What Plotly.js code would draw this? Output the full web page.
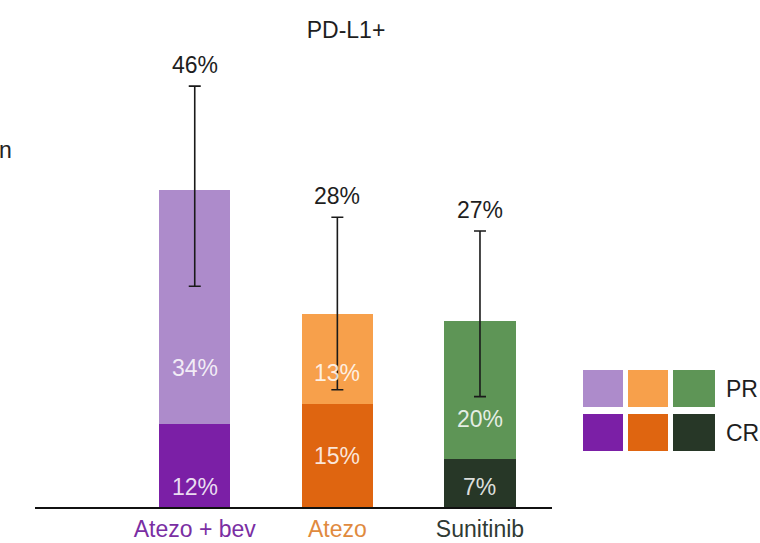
<!DOCTYPE html>
<html>
<head>
<meta charset="utf-8">
<script src="https://cdn.plot.ly/plotly-3.0.1.min.js"></script>
<style>
  html, body { margin: 0; padding: 0; background: #ffffff; }
  #chart { width: 760px; height: 543px; }
</style>
</head>
<body>
<div id="chart"></div>
<script>
// Treatment arms (PD-L1+ population)
const arms = ['Atezo + bev', 'Atezo', 'Sunitinib'];
// Complete response, %
const crValues = [12, 15, 7];
// Partial response, %
const prValues = [34, 13, 20];
// 95% CI of the objective response rate, %
const ciLow = [32, 17, 16];
const ciHigh = [61, 42, 40];

const orrValues = crValues.map((c, i) => c + prValues[i]);

const prColors = ['#ad8bcb', '#f7a04b', '#5e9556'];
const crColors = ['#7b1fa6', '#df6510', '#273727'];
const armTextColors = ['#7a2ea3', '#e08a3e', '#2f3a34'];

const FONT = '"Liberation Sans", Arial, Helvetica, sans-serif';
const FS = 23;

// plot-area edges in pixels, used for the paper-unit helpers below
const plotL = 35, plotR = 552, plotT = 24, plotB = 507;
const px = v => (v - plotL) / (plotR - plotL);
const py = v => (plotB - v) / (plotB - plotT);

const traces = [
  {
    type: 'bar', name: 'CR', x: arms, y: crValues,
    marker: { color: crColors, line: { width: 0 } },
    width: 0.5, hoverinfo: 'skip', showlegend: false
  },
  {
    type: 'bar', name: 'PR', x: arms, y: prValues,
    marker: { color: prColors, line: { width: 0 } },
    width: 0.5, hoverinfo: 'skip', showlegend: false
  },
  {
    // confidence interval around the objective response rate
    type: 'scatter', mode: 'markers', x: arms, y: orrValues,
    marker: { size: 1, opacity: 0 },
    error_y: {
      type: 'data', symmetric: false,
      array: ciHigh.map((h, i) => h - orrValues[i]),
      arrayminus: ciLow.map((l, i) => orrValues[i] - l),
      color: '#1a1a1a', thickness: 1.6, width: 6
    },
    hoverinfo: 'skip', showlegend: false
  }
];

const annotations = [];
// ORR labels above the CI whiskers
arms.forEach((a, i) => {
  annotations.push({
    x: a, y: ciHigh[i], xref: 'x', yref: 'y',
    text: orrValues[i] + '%', showarrow: false,
    xanchor: 'center', yanchor: 'bottom', yshift: 6,
    font: { family: FONT, size: FS, color: '#1e1e1e' }
  });
});
// in-bar segment labels (position given as a fraction of each segment)
const crFrac = [0.24, 0.49, 0.41];
const prFrac = [0.24, 0.34, 0.29];
arms.forEach((a, i) => {
  annotations.push({
    x: a, y: crValues[i] * crFrac[i], xref: 'x', yref: 'y',
    text: crValues[i] + '%', showarrow: false, xanchor: 'center', yanchor: 'middle',
    font: { family: FONT, size: FS, color: 'rgba(255,255,255,0.85)' }
  });
  annotations.push({
    x: a, y: crValues[i] + prValues[i] * prFrac[i], xref: 'x', yref: 'y',
    text: prValues[i] + '%', showarrow: false, xanchor: 'center', yanchor: 'middle',
    font: { family: FONT, size: FS, color: 'rgba(255,255,255,0.85)' }
  });
});
// last letter of the axis caption, cut by the left edge
annotations.push({
  x: px(14), y: py(150), xref: 'paper', yref: 'paper', showarrow: false,
  xanchor: 'right', yanchor: 'middle',
  text: 'n', font: { family: FONT, size: FS, color: '#222' }
});

// legend grid: PR row on top, CR row below, one swatch per arm
const shapes = [];
const swX = [[583, 623], [628, 668], [673, 715]];
const rows = [{ y: [370, 407], colors: prColors, label: 'PR' },
              { y: [414, 451], colors: crColors, label: 'CR' }];
rows.forEach(r => {
  swX.forEach((sx, j) => {
    shapes.push({
      type: 'rect', xref: 'paper', yref: 'paper',
      x0: px(sx[0]), x1: px(sx[1]), y0: py(r.y[1]), y1: py(r.y[0]),
      fillcolor: r.colors[j], line: { width: 0 }
    });
  });
  annotations.push({
    x: px(724), y: py((r.y[0] + r.y[1]) / 2), xref: 'paper', yref: 'paper',
    xanchor: 'left', yanchor: 'middle', showarrow: false, text: r.label,
    font: { family: FONT, size: FS, color: '#1e1e1e' }
  });
});

const layout = {
  width: 760, height: 543,
  margin: { l: plotL, r: 760 - plotR, t: plotT, b: 543 - plotB },
  paper_bgcolor: '#ffffff', plot_bgcolor: '#ffffff',
  barmode: 'stack',
  showlegend: false,
  title: {
    text: 'PD-L1+', x: px(346), xref: 'paper', xanchor: 'center',
    y: 1 - 30 / 543, yanchor: 'middle', yref: 'container',
    font: { family: FONT, size: FS, color: '#1e1e1e' }
  },
  xaxis: {
    type: 'category', range: [-1.12, 2.505],
    showline: true, linecolor: '#111', linewidth: 1.6,
    ticks: '', showgrid: false, zeroline: false,
    tickvals: arms,
    ticktext: arms.map((a, i) => '<span style="color:' + armTextColors[i] + '">' + a + '</span>'),
    tickfont: { family: FONT, size: FS },
    ticklabelstandoff: 1,
    fixedrange: true
  },
  yaxis: {
    range: [0, 70], visible: false, showgrid: false, zeroline: false, fixedrange: true
  },
  shapes: shapes,
  annotations: annotations
};

Plotly.newPlot('chart', traces, layout, { displayModeBar: false, staticPlot: true });
</script>
</body>
</html>
